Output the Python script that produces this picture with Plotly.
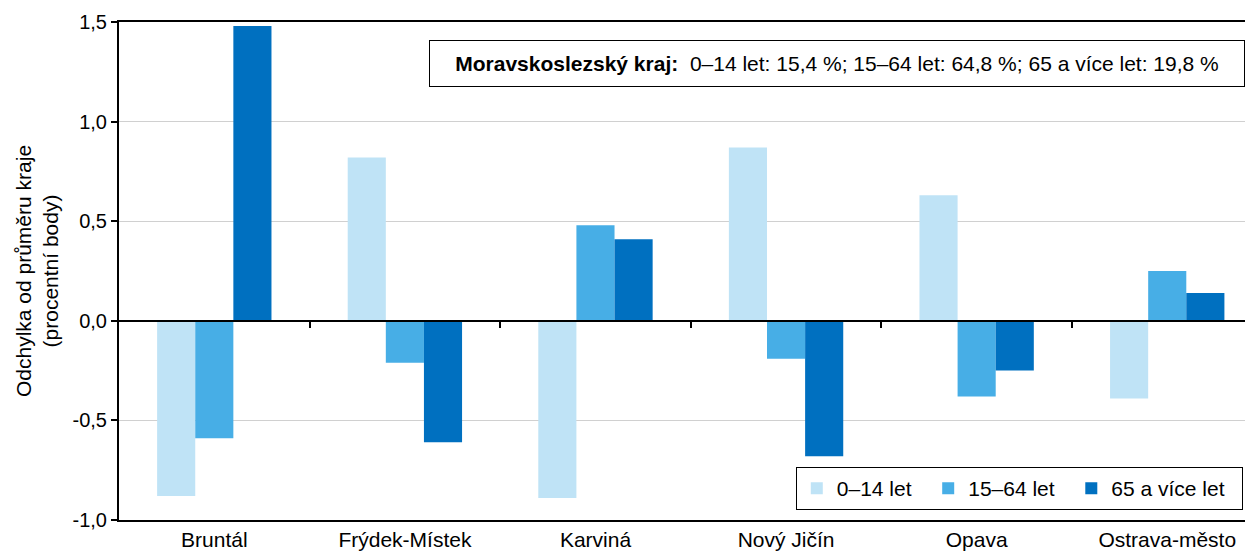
import plotly.graph_objects as go

districts = ["Bruntál", "Frýdek-Místek", "Karviná", "Nový Jičín", "Opava", "Ostrava-město"]
series_names = ["0–14 let", "15–64 let", "65 a více let"]
v_0_14 = [-0.88, 0.82, -0.89, 0.87, 0.63, -0.39]
v_15_64 = [-0.59, -0.21, 0.48, -0.19, -0.38, 0.25]
v_65 = [1.48, -0.61, 0.41, -0.68, -0.25, 0.14]
colors = ["#BFE3F6", "#47AEE6", "#0070C0"]
y_ticks = [-1.0, -0.5, 0.0, 0.5, 1.0, 1.5]
y_ticktext = ["-1,0", "-0,5", "0,0", "0,5", "1,0", "1,5"]
note_bold = "Moravskoslezský kraj:"
note_text = "0–14 let: 15,4 %; 15–64 let: 64,8 %; 65 a více let: 19,8 %"

FONT = "Liberation Sans, Arial, sans-serif"
x_idx = list(range(len(districts)))
PAD = "\u00a0\u00a0"  # spacing after each legend entry

fig = go.Figure()
for name, vals, col in zip(series_names, [v_0_14, v_15_64, v_65], colors):
    fig.add_trace(go.Bar(x=x_idx, y=vals, name=name + PAD, marker=dict(color=col, line=dict(width=0))))

x_range = [-0.5, 5.45]
fig.update_layout(
    width=1245, height=545,
    margin=dict(l=111, r=0, t=14, b=33),
    plot_bgcolor="white", paper_bgcolor="white",
    barmode="group", bargap=0.4, bargroupgap=0,
    font=dict(family=FONT, size=20, color="black"),
    xaxis=dict(
        range=x_range, tickmode="array", tickvals=x_idx, ticktext=districts,
        showgrid=False, zeroline=False, showline=True, linecolor="black", linewidth=2,
        mirror=True, ticks="", tickfont=dict(size=21),
    ),
    xaxis2=dict(
        overlaying="x", anchor="free", position=0.4, range=x_range, type="linear",
        tickmode="array", tickvals=[i + 0.5 for i in x_idx[:-1]], showticklabels=False,
        ticks="outside", ticklen=6, tickwidth=2, tickcolor="black",
        showline=True, linecolor="black", linewidth=2, showgrid=False, zeroline=False,
    ),
    yaxis=dict(
        range=[-1.0, 1.5], tickmode="array", tickvals=y_ticks, ticktext=y_ticktext,
        showgrid=True, gridcolor="#D0D0D0", gridwidth=1, zeroline=False,
        showline=True, linecolor="black", linewidth=2,
        ticks="outside", ticklen=6, tickwidth=2, tickcolor="black",
        tickfont=dict(size=20),
        title=dict(text="Odchylka od průměru kraje<br>(procentní body)", font=dict(size=21), standoff=8),
    ),
    legend=dict(
        orientation="h", x=0.991, xanchor="right", y=0.02, yanchor="bottom",
        bordercolor="black", borderwidth=1, bgcolor="white",
        font=dict(size=21), itemwidth=30, traceorder="normal",
    ),
    showlegend=True,
)
# invisible helper trace so the zero-line axis (xaxis2) is drawn
fig.add_trace(go.Scatter(x=[0], y=[0], xaxis="x2", mode="markers", marker=dict(opacity=0),
                         showlegend=False, hoverinfo="skip"))

fig.add_annotation(
    xref="paper", yref="paper", x=0.993, y=0.964, xanchor="right", yanchor="top",
    text=f"<b>{note_bold}</b>  {note_text}", showarrow=False,
    font=dict(size=21, color="black"), bordercolor="black", borderwidth=1,
    bgcolor="white", width=812, height=43, align="center",
)

fig.write_html("out.html")
